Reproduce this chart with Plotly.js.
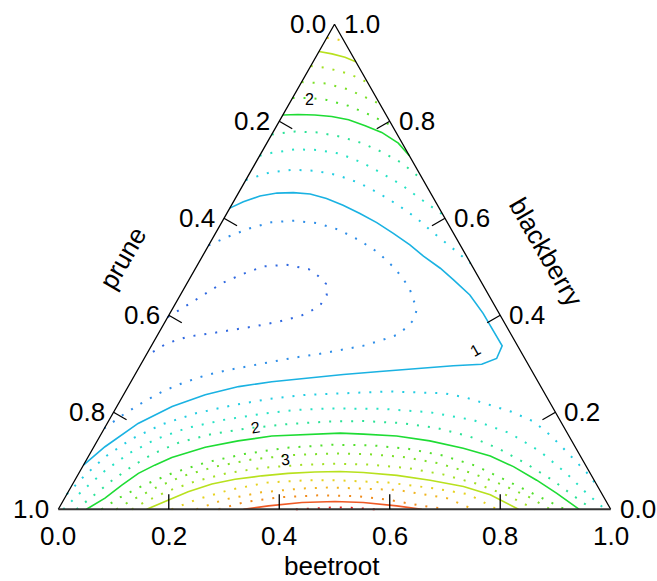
<!DOCTYPE html>
<html><head><meta charset="utf-8">
<script src="https://cdn.plot.ly/plotly-3.0.1.min.js"></script>
<style>html,body{margin:0;padding:0;background:#fff;}#plot{width:657px;height:581px;}</style>
</head><body><div id="plot"></div>
<script>
// ---- axis names and ticks ----
const titleTop = 'blackberry';   // top vertex component (right-edge scale)
const titleLeft = 'prune';       // bottom-left vertex component (left-edge scale)
const titleBottom = 'beetroot';  // bottom-right vertex component (bottom scale)
const tickValues = [0, 0.2, 0.4, 0.6, 0.8, 1.0];
const tickLabels = ['0.0', '0.2', '0.4', '0.6', '0.8', '1.0'];
const tickMarkValues = [0.2, 0.4, 0.6, 0.8];

// ---- contour levels (each contour: [blackberry, beetroot] pairs; prune = 1 - both) ----
const lvl050 = [[0.396,0],[0.415,0.018],[0.440,0.040],[0.466,0.063],[0.485,0.091],[0.501,0.122],[0.504,0.162],[0.495,0.206],[0.481,0.230],[0.465,0.252],[0.442,0.265],[0.423,0.264],[0.410,0.254],[0.399,0.240],[0.387,0.206],[0.378,0.170],[0.370,0.133],[0.363,0.096],[0.356,0.057],[0.342,0.025],[0.315,0]];
const lvl075 = [[0.544,0],[0.562,0.026],[0.579,0.056],[0.592,0.090],[0.595,0.130],[0.590,0.173],[0.577,0.218],[0.555,0.267],[0.529,0.315],[0.496,0.362],[0.458,0.406],[0.412,0.443],[0.390,0.448],[0.373,0.442],[0.359,0.432],[0.351,0.416],[0.337,0.383],[0.328,0.347],[0.320,0.311],[0.313,0.272],[0.304,0.236],[0.296,0.199],[0.287,0.163],[0.276,0.128],[0.261,0.096],[0.243,0.067],[0.221,0.043],[0.194,0.019],[0.167,0]];
const lvl100 = [[0.621,0],[0.634,0.018],[0.646,0.042],[0.652,0.070],[0.653,0.099],[0.650,0.131],[0.641,0.165],[0.627,0.202],[0.610,0.241],[0.591,0.281],[0.569,0.322],[0.545,0.364],[0.522,0.400],[0.497,0.443],[0.473,0.479],[0.442,0.524],[0.404,0.567],[0.384,0.587],[0.363,0.609],[0.337,0.635],[0.311,0.638],[0.299,0.617],[0.296,0.567],[0.291,0.509],[0.284,0.440],[0.278,0.377],[0.270,0.312],[0.263,0.255],[0.253,0.200],[0.236,0.148],[0.212,0.100],[0.177,0.056],[0.129,0.020],[0.091,0]];
const lvl125b = [[0.031,0],[0.070,0.013],[0.110,0.032],[0.145,0.060],[0.175,0.100],[0.198,0.150],[0.215,0.210],[0.228,0.270],[0.236,0.330],[0.240,0.400],[0.243,0.476],[0.239,0.580],[0.230,0.624],[0.215,0.674],[0.201,0.720],[0.181,0.770],[0.153,0.814],[0.126,0.851],[0.098,0.889],[0.071,0.925],[0.045,0.955]];
const lvl150b = [[0,0.009],[0.040,0.025],[0.080,0.045],[0.115,0.070],[0.145,0.105],[0.168,0.150],[0.185,0.210],[0.197,0.270],[0.205,0.330],[0.208,0.390],[0.207,0.485],[0.200,0.573],[0.184,0.659],[0.157,0.739],[0.119,0.813],[0.074,0.883],[0.033,0.940],[0,0.990]];
const lvl175b = [[0,0.033],[0.030,0.050],[0.060,0.068],[0.090,0.090],[0.115,0.115],[0.138,0.150],[0.155,0.200],[0.167,0.260],[0.176,0.330],[0.181,0.400],[0.182,0.460],[0.178,0.530],[0.168,0.600],[0.150,0.670],[0.125,0.735],[0.094,0.800],[0.060,0.865],[0.030,0.915],[0,0.967]];
const lvl200b = [[0,0.051],[0.023,0.073],[0.050,0.090],[0.074,0.108],[0.091,0.129],[0.107,0.152],[0.128,0.202],[0.141,0.255],[0.151,0.311],[0.155,0.375],[0.157,0.432],[0.155,0.475],[0.151,0.537],[0.141,0.602],[0.126,0.670],[0.110,0.727],[0.088,0.780],[0.060,0.836],[0.033,0.886],[0,0.943]];
const lvl225b = [[0,0.078],[0.025,0.100],[0.050,0.130],[0.075,0.170],[0.097,0.220],[0.114,0.280],[0.127,0.350],[0.133,0.430],[0.132,0.500],[0.125,0.570],[0.111,0.640],[0.090,0.710],[0.060,0.780],[0.030,0.850],[0,0.917]];
const lvl250b = [[0,0.105],[0.020,0.125],[0.045,0.155],[0.068,0.190],[0.088,0.240],[0.103,0.300],[0.112,0.370],[0.115,0.440],[0.114,0.500],[0.108,0.570],[0.095,0.640],[0.075,0.710],[0.050,0.780],[0.025,0.840],[0,0.890]];
const lvl275b = [[0,0.133],[0.016,0.150],[0.038,0.180],[0.058,0.220],[0.075,0.270],[0.086,0.330],[0.092,0.400],[0.094,0.460],[0.092,0.520],[0.085,0.590],[0.072,0.660],[0.053,0.730],[0.028,0.800],[0,0.863]];
const lvl300b = [[0,0.160],[0.016,0.185],[0.036,0.217],[0.052,0.252],[0.062,0.289],[0.069,0.334],[0.074,0.379],[0.077,0.426],[0.078,0.471],[0.076,0.514],[0.070,0.578],[0.060,0.643],[0.047,0.710],[0.030,0.767],[0,0.833]];
const lvl325b = [[0,0.205],[0.020,0.240],[0.040,0.290],[0.055,0.350],[0.060,0.420],[0.060,0.470],[0.055,0.570],[0.043,0.660],[0.031,0.727],[0,0.794]];
const lvl350b = [[0,0.250],[0.020,0.290],[0.035,0.350],[0.043,0.420],[0.045,0.470],[0.040,0.593],[0.023,0.692],[0,0.751]];
const lvl375b = [[0,0.290],[0.015,0.330],[0.025,0.390],[0.029,0.460],[0.027,0.530],[0.019,0.591],[0.008,0.650],[0,0.703]];
const lvl400b = [[0,0.335],[0.007,0.377],[0.014,0.434],[0.016,0.493],[0.014,0.545],[0.007,0.609],[0,0.658]];
const lvl425b = [[0,0.430],[0.003,0.470],[0.004,0.500],[0.003,0.530],[0,0.573]];
const lvl125t = [[0.679,0],[0.694,0.034],[0.700,0.073],[0.698,0.116],[0.689,0.161],[0.673,0.208],[0.652,0.254],[0.627,0.302],[0.600,0.349],[0.570,0.394],[0.538,0.445],[0.507,0.493]];
const lvl150t = [[0.729,0],[0.735,0.019],[0.742,0.057],[0.741,0.099],[0.733,0.144],[0.715,0.192],[0.693,0.239],[0.669,0.287],[0.641,0.334],[0.607,0.393]];
const lvl175t = [[0.773,0],[0.779,0.039],[0.777,0.081],[0.768,0.128],[0.755,0.172],[0.737,0.217],[0.714,0.265],[0.677,0.323]];
const lvl200t = [[0.813,0],[0.814,0.027],[0.813,0.058],[0.810,0.090],[0.803,0.124],[0.791,0.160],[0.777,0.197],[0.755,0.238],[0.729,0.271]];
const lvl225t = [[0.848,0],[0.848,0.030],[0.844,0.064],[0.832,0.109],[0.813,0.158],[0.790,0.210]];
const lvl250t = [[0.881,0],[0.878,0.045],[0.866,0.091],[0.847,0.139],[0.836,0.164]];
const lvl275t = [[0.914,0],[0.911,0.024],[0.906,0.047],[0.900,0.069],[0.892,0.092],[0.880,0.120]];
const lvl300t = [[0.944,0],[0.939,0.026],[0.932,0.053],[0.923,0.077]];
const lvl325t = [[0.972,0],[0.971,0.012],[0.967,0.027],[0.959,0.041]];

const contourLevels = [0.5, 0.75, 1, 1.25, 1.5, 1.75, 2, 2.25, 2.5, 2.75, 3, 3.25, 3.5, 3.75, 4, 4.25];
const levelColors = ['#2f68e0','#2e8ee8','#1ab2e2','#22cde2','#26e2c4','#2ae296','#1edc34','#52e02c','#7ce028','#a2e024','#b8e11e','#e6d21e','#f0b41e','#f08c1e','#ef5a26','#e62020'];

// contour label texts and positions ([blackberry, beetroot])
const labelTexts = ['1', '2', '2', '3'];
const labelPos = [[0.327, 0.591], [0.845, 0.033], [0.169, 0.272], [0.102, 0.360]];
const labelAngles = [-30, 0, -10, -6];

const contourSets = [
  [0.5, lvl050], [0.75, lvl075], [1, lvl100],
  [1.25, lvl125b], [1.5, lvl150b], [1.75, lvl175b], [2, lvl200b], [2.25, lvl225b], [2.5, lvl250b], [2.75, lvl275b],
  [3, lvl300b], [3.25, lvl325b], [3.5, lvl350b], [3.75, lvl375b], [4, lvl400b], [4.25, lvl425b],
  [1.25, lvl125t], [1.5, lvl150t], [1.75, lvl175t], [2, lvl200t], [2.25, lvl225t], [2.5, lvl250t], [2.75, lvl275t], [3, lvl300t], [3.25, lvl325t]
];

// ternary (blackberry a, beetroot c) -> cartesian
function tx(a, c) { return c + a / 2; }
function ty(a, c) { return a; }

const traces = [];
contourSets.forEach(([lev, pts]) => {
  const idx = contourLevels.indexOf(lev);
  const solid = Number.isInteger(lev);
  traces.push({
    type: 'scatter', mode: 'lines', hoverinfo: 'skip',
    x: pts.map(p => tx(p[0], p[1])), y: pts.map(p => ty(p[0], p[1])),
    line: { color: levelColors[idx], width: solid ? 1.6 : 2, dash: solid ? 'solid' : '2px,9px', shape: 'linear' }
  });
});

// triangle frame
const vA = [1, 0], vB = [0, 0], vC = [0, 1]; // top, bottom-left, bottom-right as [blackberry, beetroot]
traces.push({ type: 'scatter', mode: 'lines', hoverinfo: 'skip',
  x: [vB, vA, vC].map(p => tx(p[0], p[1])), y: [vB, vA, vC].map(p => ty(p[0], p[1])),
  line: { color: '#000', width: 1.3 } });
traces.push({ type: 'scatter', mode: 'lines', hoverinfo: 'skip',
  x: [vB, vC].map(p => tx(p[0], p[1])), y: [vB, vC].map(p => ty(p[0], p[1])),
  line: { color: '#333', width: 2 } });

// tick marks (perpendicular, pointing inward)
const PXX = 552.4, PXY = 485;
const tkx = [], tky = [];
tickMarkValues.forEach(t => {
  tkx.push(tx(0, t), tx(0, t), null); tky.push(0, 15 / PXY, null);
  const lx = tx(1 - t, 0), ly = ty(1 - t, 0);
  tkx.push(lx, lx + 13 / PXX, null); tky.push(ly, ly - 7.5 / PXY, null);
  const rx = tx(t, 1 - t), ry = ty(t, 1 - t);
  tkx.push(rx, rx - 13 / PXX, null); tky.push(ry, ry - 7.5 / PXY, null);
});
traces.push({ type: 'scatter', mode: 'lines', hoverinfo: 'skip', x: tkx, y: tky, line: { color: '#000', width: 1.3 } });

const FONT = 'Liberation Sans, Arial, sans-serif';
const annotations = [];
tickValues.forEach((t, i) => {
  annotations.push({ x: tx(1 - t, 0), y: ty(1 - t, 0), xref: 'x', yref: 'y', text: tickLabels[i], showarrow: false,
    xanchor: 'right', yanchor: 'middle', xshift: -7, font: { family: FONT, size: 26, color: '#000' } });
  annotations.push({ x: tx(t, 1 - t), y: ty(t, 1 - t), xref: 'x', yref: 'y', text: tickLabels[i], showarrow: false,
    xanchor: 'left', yanchor: 'middle', xshift: 7, font: { family: FONT, size: 26, color: '#000' } });
  annotations.push({ x: tx(0, t), y: 0, xref: 'x', yref: 'y', text: tickLabels[i], showarrow: false,
    xanchor: 'center', yanchor: 'middle', yshift: -27, font: { family: FONT, size: 26, color: '#000' } });
});
// axis titles
annotations.push({ x: 0.1162, y: 0.519, xref: 'x', yref: 'y', text: titleLeft, showarrow: false, textangle: -60,
  xanchor: 'center', yanchor: 'middle', font: { family: FONT, size: 26, color: '#000' } });
annotations.push({ x: 0.8829, y: 0.5305, xref: 'x', yref: 'y', text: titleTop, showarrow: false, textangle: 60,
  xanchor: 'center', yanchor: 'middle', font: { family: FONT, size: 26, color: '#000' } });
annotations.push({ x: 0.4949, y: -0.1175, xref: 'x', yref: 'y', text: titleBottom, showarrow: false,
  xanchor: 'center', yanchor: 'middle', borderpad: 0, font: { family: FONT, size: 26, color: '#000' } });
// contour labels
labelTexts.forEach((s, i) => {
  annotations.push({ x: tx(labelPos[i][0], labelPos[i][1]), y: ty(labelPos[i][0], labelPos[i][1]), xref: 'x', yref: 'y',
    text: s, showarrow: false, textangle: labelAngles[i], xanchor: 'center', yanchor: 'middle',
    font: { family: FONT, size: 16, color: '#000' } });
});

const layout = {
  width: 657, height: 581, margin: { l: 0, r: 0, t: 0, b: 0 },
  paper_bgcolor: '#fff', plot_bgcolor: '#fff', showlegend: false,
  xaxis: { range: [-0.10554, 1.08381], visible: false, fixedrange: true },
  yaxis: { range: [-0.14784, 1.0501], visible: false, fixedrange: true },
  annotations: annotations
};
Plotly.newPlot('plot', traces, layout, { displayModeBar: false, staticPlot: true });
</script></body></html>
